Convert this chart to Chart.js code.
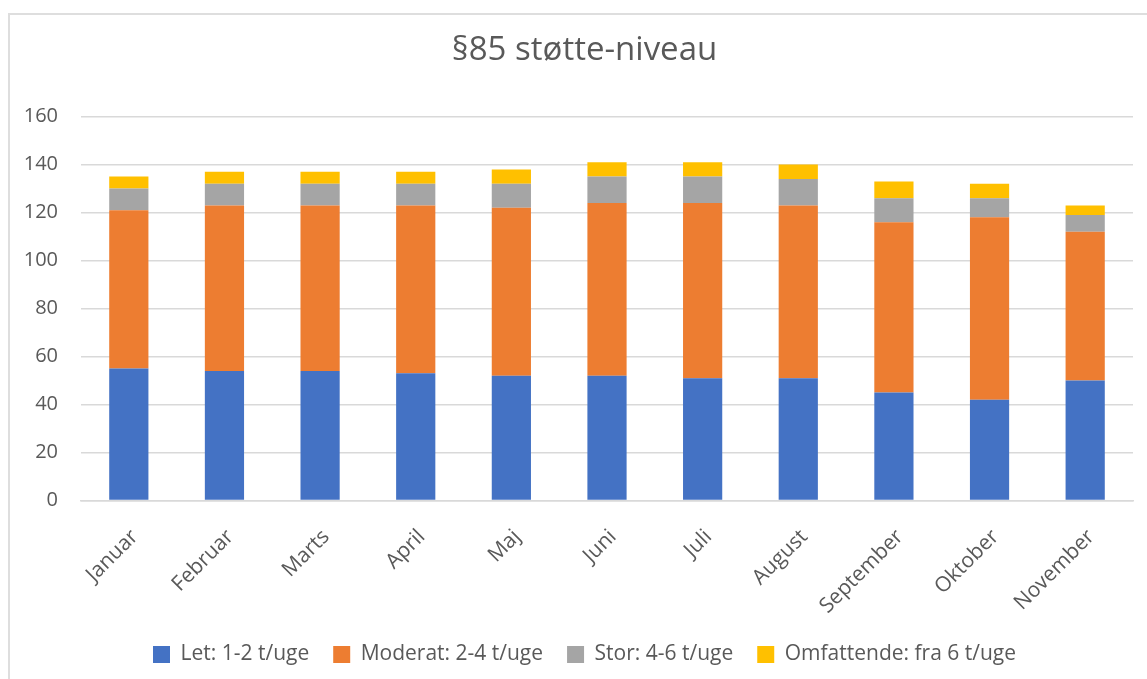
<!DOCTYPE html>
<html>
<head>
<meta charset="utf-8">
<script src="https://cdn.jsdelivr.net/npm/chart.js@4"></script>
<style>
    html, body { margin: 0; padding: 0; background: #fff; overflow: hidden; }
    .frame {
        position: absolute; left: 8px; top: 13px; width: 1300px; height: 800px;
        border-left: 2px solid #dedede; border-top: 2px solid #dedede;
    }
    .wrap { position: absolute; left: 0; top: 0; width: 1147px; height: 675px; }
</style>
</head>
<body>
<div class="frame"></div>
<div class="wrap"><canvas id="chart"></canvas></div>
<script>
const months = ['Januar', 'Februar', 'Marts', 'April', 'Maj', 'Juni',
    'Juli', 'August', 'September', 'Oktober', 'November'];

const letValues = [55, 54, 54, 53, 52, 52, 51, 51, 45, 42, 50];
const moderatValues = [66, 69, 69, 70, 70, 72, 73, 72, 71, 76, 62];
const storValues = [9, 9, 9, 9, 10, 11, 11, 11, 10, 8, 7];
const omfattendeValues = [5, 5, 5, 5, 6, 6, 6, 6, 7, 6, 4];

const yTicks = [0, 20, 40, 60, 80, 100, 120, 140, 160];

const textColor = '#595959';
const fontFamily = '"Open Sans", sans-serif';

function series(label, data, color) {
    return {
        label: label,
        data: data,
        backgroundColor: color,
        borderWidth: 0,
        categoryPercentage: 1,
        barPercentage: 0.41
    };
}

const ctx = document.getElementById('chart');

new Chart(ctx, {
    type: 'bar',
    data: {
        labels: months,
        datasets: [
            series('Let: 1-2 t/uge', letValues, '#4472C4'),
            series('Moderat: 2-4 t/uge', moderatValues, '#ED7D31'),
            series('Stor: 4-6 t/uge', storValues, '#A5A5A5'),
            series('Omfattende: fra 6 t/uge', omfattendeValues, '#FFC000')
        ]
    },
    options: {
        responsive: true,
        maintainAspectRatio: false,
        animation: false,
        layout: {
            padding: { left: 22, right: 0, top: 0, bottom: 0 }
        },
        plugins: {
            title: {
                display: true,
                text: '§85 støtte-niveau',
                color: textColor,
                font: { family: fontFamily, size: 33, weight: 'normal', lineHeight: 1.2 },
                padding: { top: 31, bottom: 46 }
            },
            legend: {
                position: 'bottom',
                labels: {
                    color: textColor,
                    font: { family: fontFamily, size: 21 },
                    boxWidth: 17,
                    boxHeight: 17,
                    padding: 24
                }
            },
            tooltip: { enabled: false }
        },
        scales: {
            x: {
                stacked: true,
                grid: { display: false, drawTicks: false },
                border: { display: true, color: '#d9d9d9', width: 1.5 },
                ticks: {
                    color: textColor,
                    font: { family: fontFamily, size: 21 },
                    maxRotation: 45,
                    minRotation: 45,
                    autoSkip: false,
                    labelOffset: 6,
                    padding: 24
                },
                afterFit: function (axis) {
                    axis.height = 119.5;
                }
            },
            y: {
                stacked: true,
                min: 0,
                max: 160,
                afterBuildTicks: function (axis) {
                    axis.ticks = yTicks.map(v => ({ value: v }));
                },
                grid: { color: '#d9d9d9', lineWidth: 1.5, drawTicks: false },
                border: { display: false },
                ticks: {
                    color: textColor,
                    font: { family: fontFamily, size: 20 },
                    padding: 23
                },
                afterFit: function (axis) {
                    axis.width = 59;
                }
            },
            yRight: {
                position: 'right',
                display: true,
                grid: { display: false, drawTicks: false },
                border: { display: false },
                ticks: { display: false },
                afterFit: function (axis) {
                    axis.width = 14;
                }
            }
        }
    }
});
</script>
</body>
</html>
